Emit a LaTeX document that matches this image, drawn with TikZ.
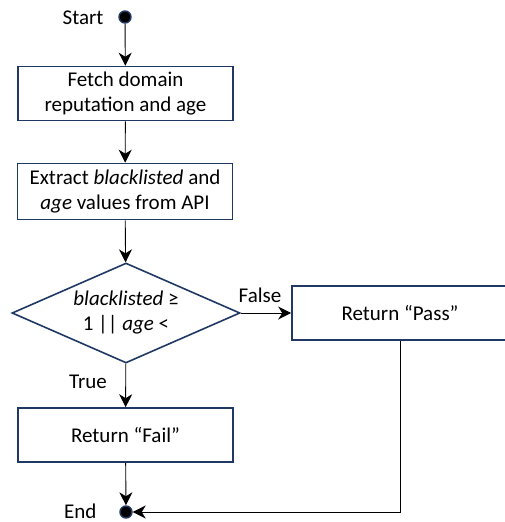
\documentclass[tikz,border=0pt]{standalone}
\usepackage{fontspec}
\setmainfont{Carlito}
\usetikzlibrary{shapes.geometric,arrows.meta,positioning}
\definecolor{boxblue}{RGB}{31,56,100}

\begin{document}
\begin{tikzpicture}[x=1pt,y=-1pt,
    every node/.style={font=\fontsize{21}{25}\selectfont},
    stepbox/.style={draw=boxblue,line width=1.6pt,minimum width=215pt,minimum height=54pt,align=center,inner sep=0pt},
    decision/.style={diamond,draw=boxblue,line width=1.6pt,aspect=2.28,minimum width=228pt,minimum height=100pt,inner sep=0pt,align=center},
    terminal/.style={circle,fill=black,draw=boxblue,line width=1.4pt,minimum size=12pt,inner sep=0pt},
    flow/.style={-{Stealth[length=13pt,width=13pt,inset=4pt]},line width=0.9pt}]
  \useasboundingbox (0,0) rectangle (505,522);
  \clip (0,0) rectangle (505,522);
  % start and end points
  \node[terminal] (start) at (125,17) {};
  \node[anchor=east] (startlbl) at (107,18) {Start};
  \node[terminal] (end) at (126,512) {};
  \node[anchor=east] (endlbl) at (100,511) {End};
  % steps
  \node[stepbox] (fetch) at (125.5,93.5) {Fetch domain\\reputation and age};
  \node[stepbox,minimum height=56pt] (extract) at (125,191.5) {Extract \textit{blacklisted} and\\\textit{age} values from API};
  \node[decision] (check) at (126,313) {\textit{blacklisted} ≥\\1 || \textit{age} <};
  \node[stepbox,minimum width=216pt] (pass) at (400,313) {Return “Pass”};
  \node[stepbox] (fail) at (125.5,435) {Return “Fail”};
  % labels
  \node (falselbl) at (260,295) {False};
  \node (truelbl) at (88,382) {True};
  % connectors
  \draw[flow] (start) -- (fetch);
  \draw[flow] (fetch) -- (extract);
  \draw[flow] (extract) -- (check);
  \draw[flow] (check) -- (pass);
  \draw[flow] (check) -- (fail);
  \draw[flow] (fail) -- (end);
  \draw[flow] (pass.south) |- (end);
\end{tikzpicture}
\end{document}
